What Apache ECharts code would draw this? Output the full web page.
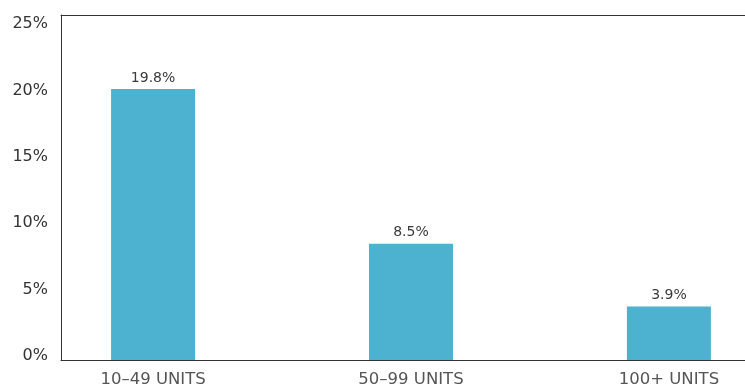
<!DOCTYPE html>
<html>
<head>
<meta charset="utf-8">
<script src="https://cdn.jsdelivr.net/npm/echarts@6/dist/echarts.min.js"></script>
<style>html,body{margin:0;padding:0;background:#fff}#c{width:745px;height:388px}</style>
</head>
<body>
<div id="c"></div>
<script>
const categories = ['10–49 UNITS', '50–99 UNITS', '100+ UNITS'];
const values = [19.8, 8.5, 3.9];
const yTicks = [0, 5, 10, 15, 20, 25];

const chart = echarts.init(document.getElementById('c'));
const font = "'DejaVu Sans', sans-serif";
chart.setOption({
  animation: false,
  grid: { left: 61, right: 0, top: 15, bottom: 27 },
  xAxis: [{
    type: 'value', min: -0.357, max: 2.295,
    axisLine: { show: true, onZero: false, lineStyle: { color: '#333', width: 1 } },
    axisTick: { show: false },
    splitLine: { show: false },
    axisLabel: {
      customValues: [0, 1, 2],
      formatter: v => categories[Math.round(v)],
      color: '#555', fontSize: 16.5, fontFamily: font, margin: 11
    }
  }, {
    type: 'value', min: -0.357, max: 2.295, position: 'top',
    axisLine: { show: true, onZero: false, lineStyle: { color: '#333', width: 1 } },
    axisTick: { show: false }, splitLine: { show: false }, axisLabel: { show: false }
  }],
  yAxis: [{
    type: 'value', min: 0, max: 25.2,
    axisLine: { show: true, onZero: false, lineStyle: { color: '#333', width: 1 } },
    axisTick: { show: false },
    splitLine: { show: false },
    axisLabel: { show: false }
  }, {
    type: 'value', min: -0.3, max: 25.68, position: 'left',
    axisLine: { show: false }, axisTick: { show: false }, splitLine: { show: false },
    axisLabel: {
      customValues: yTicks,
      formatter: '{value}%', color: '#333', fontSize: 16, fontFamily: font, margin: 13
    }
  }],
  series: [{
    type: 'bar',
    xAxisIndex: 0,
    yAxisIndex: 0,
    barWidth: 84,
    data: values.map((v, i) => [i, v]),
    itemStyle: { color: '#4db2d0' },
    label: {
      show: true, position: 'top', distance: 4,
      formatter: p => p.value[1] + '%',
      color: '#3a3a3a', fontSize: 14, fontFamily: font
    }
  }]
});
</script>
</body>
</html>
